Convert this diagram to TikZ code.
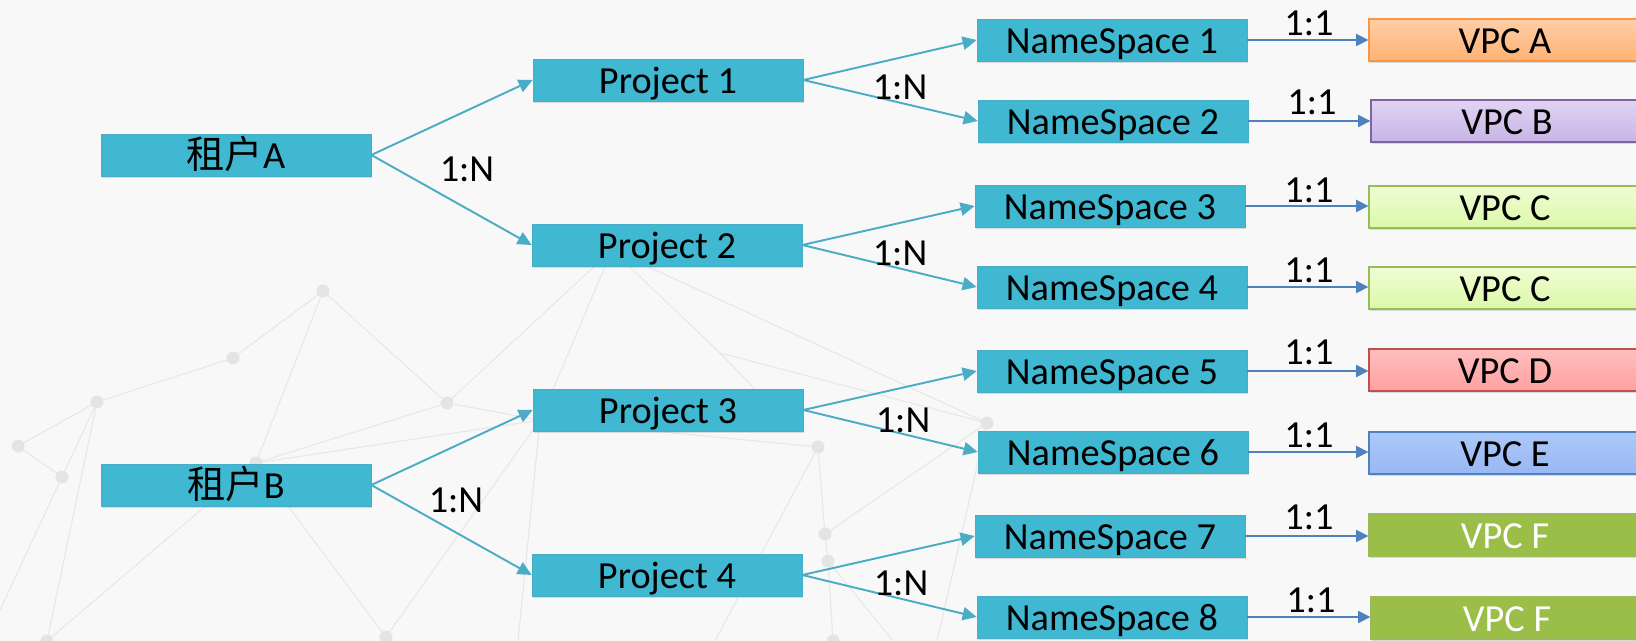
\documentclass[tikz,border=0pt]{standalone}
\usepackage{fontspec}
\setmainfont{Carlito}
\newfontfamily\cjk{Noto Sans CJK SC}
\usetikzlibrary{arrows.meta,shadows}

\definecolor{boxteal}{RGB}{64,184,210}
\definecolor{boxedge}{RGB}{72,174,200}
\definecolor{arrteal}{RGB}{75,172,198}
\definecolor{arrblue}{RGB}{79,129,189}
\definecolor{paper}{RGB}{248,248,248}
\definecolor{meshline}{RGB}{231,231,231}
\definecolor{meshdot}{RGB}{228,228,228}
% VPC colours
\definecolor{orangetop}{RGB}{255,206,166}
\definecolor{orangebot}{RGB}{255,178,116}
\definecolor{orangeedge}{RGB}{247,150,70}
\definecolor{purpletop}{RGB}{224,212,242}
\definecolor{purplebot}{RGB}{200,180,230}
\definecolor{purpleedge}{RGB}{128,100,162}
\definecolor{limetop}{RGB}{238,253,212}
\definecolor{limebot}{RGB}{220,248,170}
\definecolor{limeedge}{RGB}{155,187,89}
\definecolor{pinktop}{RGB}{255,190,190}
\definecolor{pinkbot}{RGB}{255,160,160}
\definecolor{pinkedge}{RGB}{192,80,77}
\definecolor{skytop}{RGB}{172,200,250}
\definecolor{skybot}{RGB}{152,184,242}
\definecolor{skyedge}{RGB}{79,129,189}
\definecolor{grassfill}{RGB}{155,190,72}

\begin{document}
\begin{tikzpicture}[
        x=0.02cm, y=-0.02cm,
        box/.style={
            draw=boxedge,
            fill=boxteal,
            minimum width=5.4cm,
            minimum height=0.84cm,
            inner sep=0pt,
            text height=15pt,
            text depth=0pt,
            font=\fontsize{21.8}{26}\selectfont,
            drop shadow={shadow xshift=0.4pt, shadow yshift=-1.4pt, opacity=0.25}
        },
        vpc/.style={
            box,
            minimum width=5.44cm,
            line width=0.8pt
        },
        ratio/.style={
            font=\fontsize{21.8}{26}\selectfont,
            inner sep=0pt
        },
        onetomany/.style={
            draw=arrteal,
            line width=1.1pt,
            -{Triangle[length=8pt,width=7.5pt]}
        },
        onetoone/.style={
            draw=arrblue,
            line width=0.9pt,
            -{Triangle[length=7pt,width=7pt]}
        },
        mesh/.style={
            draw=meshline,
            line width=0.6pt
        }
    ]
        \useasboundingbox (0,0) rectangle (1636,641);
        \fill[paper] (0,0) rectangle (1636,641);
        \clip (0,0) rectangle (1636,641);

        % Background mesh
        \coordinate (mA) at (323,291);
        \coordinate (mB) at (233,358);
        \coordinate (mC) at (97,402);
        \coordinate (mD) at (18,446);
        \coordinate (mE) at (62,477);
        \coordinate (mF) at (447,403);
        \coordinate (mG) at (256,463);
        \coordinate (mH) at (47,641);
        \coordinate (mI) at (386,637);
        \coordinate (mS) at (540,420);
        \coordinate (mT) at (612,250);
        \coordinate (mM) at (720,353);
        \coordinate (mU) at (780,415);
        \coordinate (mN) at (987,423);
        \coordinate (mO) at (818,447);
        \coordinate (mP) at (825,534);
        \coordinate (mQ) at (828,561);
        \coordinate (mR) at (833,641);

        \draw[mesh] (mA) -- (mB) -- (mC) -- (mD) -- (mE) -- (0,610);
        \draw[mesh] (mC) -- (mE);
        \draw[mesh] (mC) -- (mH);
        \draw[mesh] (mA) -- (mG) -- (mH);
        \draw[mesh] (mA) -- (mF) -- (mG) -- (mI) -- (mS);
        \draw[mesh] (mF) -- (mS) -- (mG);
        \draw[mesh] (mF) -- (mT) -- (mS) -- (518,641);
        \draw[mesh] (mT) -- (mM) -- (mU);
        \draw[mesh] (mM) -- (mN) -- (mT);
        \draw[mesh] (mS) -- (mO) -- (mP) -- (mQ) -- (mR);
        \draw[mesh] (mO) -- (715,641);
        \draw[mesh] (mP) -- (mN) -- (937,641);
        \draw[mesh] (mQ) -- (893,641);
        \foreach \d in {mA,mB,mC,mD,mE,mF,mG,mH,mI,mN,mO,mP,mQ,mR}
            \fill[meshdot] (\d) circle (0.13cm);

        % Tenants
        \node[box] (tenantA) at (236,155) {{\cjk 租户}A};
        \node[box] (tenantB) at (236,485) {{\cjk 租户}B};

        % Projects
        \node[box] (proj1) at (668,80) {Project 1};
        \node[box] (proj2) at (667,245) {Project 2};
        \node[box] (proj3) at (668,410) {Project 3};
        \node[box] (proj4) at (667,575) {Project 4};

        % Namespaces
        \node[box] (ns1) at (1112,40) {NameSpace 1};
        \node[box] (ns2) at (1113,121) {NameSpace 2};
        \node[box] (ns3) at (1110,206) {NameSpace 3};
        \node[box] (ns4) at (1112,287) {NameSpace 4};
        \node[box] (ns5) at (1112,371) {NameSpace 5};
        \node[box] (ns6) at (1113,452) {NameSpace 6};
        \node[box] (ns7) at (1110,536) {NameSpace 7};
        \node[box] (ns8) at (1112,617) {NameSpace 8};

        % VPCs
        \node[vpc, draw=orangeedge, top color=orangetop, bottom color=orangebot] (vpcA) at (1505,40) {VPC A};
        \node[vpc, draw=purpleedge, top color=purpletop, bottom color=purplebot] (vpcB) at (1507,121) {VPC B};
        \node[vpc, draw=limeedge, top color=limetop, bottom color=limebot] (vpcC) at (1505,207) {VPC C};
        \node[vpc, draw=limeedge, top color=limetop, bottom color=limebot] (vpcCC) at (1505,288) {VPC C};
        \node[vpc, draw=pinkedge, top color=pinktop, bottom color=pinkbot] (vpcD) at (1505,370) {VPC D};
        \node[vpc, draw=skyedge, top color=skytop, bottom color=skybot] (vpcE) at (1505,453) {VPC E};
        \node[vpc, draw=limeedge, fill=grassfill, text=white] (vpcF) at (1505,535) {VPC F};
        \node[vpc, draw=limeedge, fill=grassfill, text=white] (vpcFF) at (1507,618) {VPC F};

        % Tenant -> project
        \draw[onetomany] (tenantA.east) -- (proj1.west);
        \draw[onetomany] (tenantA.east) -- (proj2.west);
        \draw[onetomany] (tenantB.east) -- (proj3.west);
        \draw[onetomany] (tenantB.east) -- (proj4.west);

        % Project -> namespace
        \draw[onetomany] (proj1.east) -- (ns1.west);
        \draw[onetomany] (proj1.east) -- (ns2.west);
        \draw[onetomany] (proj2.east) -- (ns3.west);
        \draw[onetomany] (proj2.east) -- (ns4.west);
        \draw[onetomany] (proj3.east) -- (ns5.west);
        \draw[onetomany] (proj3.east) -- (ns6.west);
        \draw[onetomany] (proj4.east) -- (ns7.west);
        \draw[onetomany] (proj4.east) -- (ns8.west);

        % Namespace -> VPC
        \draw[onetoone] (ns1.east) -- (ns1.east -| vpcA.west);
        \draw[onetoone] (ns2.east) -- (ns2.east -| vpcB.west);
        \draw[onetoone] (ns3.east) -- (ns3.east -| vpcC.west);
        \draw[onetoone] (ns4.east) -- (ns4.east -| vpcCC.west);
        \draw[onetoone] (ns5.east) -- (ns5.east -| vpcD.west);
        \draw[onetoone] (ns6.east) -- (ns6.east -| vpcE.west);
        \draw[onetoone] (ns7.east) -- (ns7.east -| vpcF.west);
        \draw[onetoone] (ns8.east) -- (ns8.east -| vpcFF.west);

        % Ratio labels
        \node[ratio] (rA) at (467,169) {1:N};
        \node[ratio] (rB) at (456,500) {1:N};
        \node[ratio] (r1) at (900,87) {1:N};
        \node[ratio] (r2) at (900,253) {1:N};
        \node[ratio] (r3) at (903,420) {1:N};
        \node[ratio] (r4) at (901,583) {1:N};
        \node[ratio] (s1) at (1309,23) {1:1};
        \node[ratio] (s2) at (1312,102) {1:1};
        \node[ratio] (s3) at (1309,190) {1:1};
        \node[ratio] (s4) at (1309,270) {1:1};
        \node[ratio] (s5) at (1309,352) {1:1};
        \node[ratio] (s6) at (1309,435) {1:1};
        \node[ratio] (s7) at (1309,517) {1:1};
        \node[ratio] (s8) at (1311,600) {1:1};

    \end{tikzpicture}
\end{document}
